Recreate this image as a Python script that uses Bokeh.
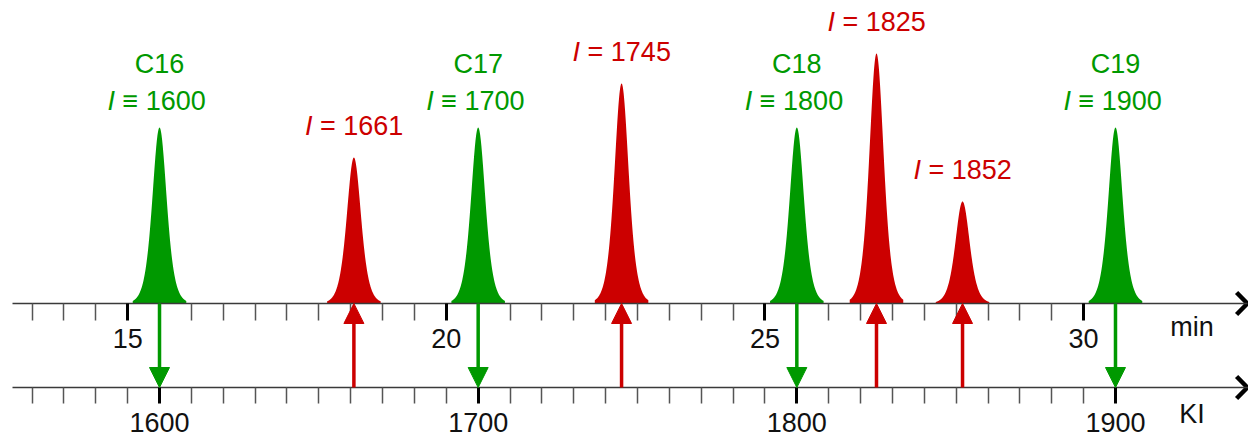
import numpy as np
from bokeh.plotting import figure
from bokeh.models import Range1d, LinearAxis, FixedTicker, Arrow, NormalHead, ColumnDataSource
from bokeh.core.properties import value
from bokeh.embed import file_html
from bokeh.resources import INLINE

# ---------------- data ----------------
standard_names = ["C16", "C17", "C18", "C19"]
standard_ki = [1600, 1700, 1800, 1900]
standard_rt = [15.5, 20.5, 25.5, 30.5]          # retention time, min
standard_height = [176, 176, 176, 176]

unknown_ki = [1661, 1745, 1825, 1852]
unknown_rt = [18.55, 22.75, 26.75, 28.1]         # retention time, min
unknown_height = [146, 220, 250, 102]

time_major = [15, 20, 25, 30]
time_minor = [t for t in np.arange(13.5, 30.01, 0.5) if t not in time_major]
ki_major = [1600, 1700, 1800, 1900]
ki_minor = [k for k in range(1560, 1901, 10) if k not in ki_major]

# ---------------- style ----------------
GREEN = "#009900"
RED = "#cc0000"
FONT = "Liberation Sans"
FS = "27px"
PEAK_W = 0.15       # peak half-width parameter (min)
KI_LEVEL = -84      # y of KI axis
T_RANGE = (13.005, 32.587)
KI_RANGE = (1550.1, 1941.74)
AXIS_END = 32.57

p = figure(width=1248, height=436, x_range=Range1d(*T_RANGE), y_range=Range1d(-133, 303),
           output_backend="svg", toolbar_location=None,
           x_axis_location=None, y_axis_location=None, min_border=0)
p.outline_line_color = None
p.background_fill_color = "white"
p.border_fill_color = "white"
p.grid.grid_line_color = None
p.grid.visible = False
p.extra_x_ranges = {"ki": Range1d(*KI_RANGE)}

# peaks
def draw_peak(rt, h, color):
    t = np.linspace(rt - 0.42, rt + 0.42, 181)
    y = h / np.cosh((t - rt) / PEAK_W) ** 2
    p.varea(x=t, y1=0, y2=y, fill_color=color, fill_alpha=1)

for rt, h in zip(standard_rt, standard_height):
    draw_peak(rt, h, GREEN)
for rt, h in zip(unknown_rt, unknown_height):
    draw_peak(rt, h, RED)

# arrows
g_src = ColumnDataSource(dict(x=standard_rt, y0=[0] * 4, y1=[KI_LEVEL] * 4))
p.add_layout(Arrow(source=g_src, x_start="x", y_start="y0", x_end="x", y_end="y1",
                   line_color=GREEN, line_width=3.5,
                   end=NormalHead(size=20, fill_color=GREEN, line_color=GREEN, line_width=1)))
r_src = ColumnDataSource(dict(x=unknown_ki, y0=[KI_LEVEL] * 4, y1=[0] * 4))
p.add_layout(Arrow(source=r_src, x_start="x", y_start="y0", x_end="x", y_end="y1",
                   x_range_name="ki", line_color=RED, line_width=3.5,
                   end=NormalHead(size=20, fill_color=RED, line_color=RED, line_width=1)))

# axes
def style_axis(ax, tick_len):
    ax.axis_line_color = "#3a3a3a"
    ax.axis_line_width = 1.5
    ax.major_tick_in = 0
    ax.major_tick_out = tick_len
    ax.major_tick_line_width = 3
    ax.major_tick_line_color = "black"
    ax.minor_tick_in = 0
    ax.minor_tick_out = tick_len
    ax.minor_tick_line_width = 1.5
    ax.minor_tick_line_color = "#555555"
    ax.major_label_text_font = FONT
    ax.major_label_text_font_size = FS
    ax.major_label_text_color = "#111111"
    ax.major_label_standoff = 8

ax_t = LinearAxis(fixed_location=0, ticker=FixedTicker(ticks=time_major, minor_ticks=time_minor),
                  bounds=(13.19, AXIS_END))
style_axis(ax_t, 17)
p.add_layout(ax_t, "below")

ax_k = LinearAxis(x_range_name="ki", fixed_location=KI_LEVEL,
                  ticker=FixedTicker(ticks=ki_major, minor_ticks=ki_minor),
                  bounds=(1553.9, 1941.6))
style_axis(ax_k, 16)
ax_k.major_label_standoff = 9
p.add_layout(ax_k, "below")

# axis-end chevrons
for lvl in (0, KI_LEVEL):
    p.line(x=[AXIS_END - 0.17, AXIS_END, AXIS_END - 0.17], y=[lvl + 11, lvl, lvl - 11],
           line_color="black", line_width=4.5, line_join="miter")

# axis unit labels
p.text(x=[31.7, 31.7], y=[-23, -110], text=["min", "KI"], text_font=value(FONT),
       text_font_size=FS, text_color="#111111", text_align="center", text_baseline="middle")

# peak labels
std_top = standard_height
p.text(x=standard_rt, y=std_top, text=standard_names, text_font=value(FONT), text_font_size=FS,
       text_color=GREEN, text_align="center", text_baseline="middle", y_offset=-64)
p.text(x=standard_rt, y=std_top, text=["I"] * 4, text_font=value(FONT), text_font_style="italic",
       text_font_size=FS, text_color=GREEN, text_align="left", text_baseline="middle",
       x_offset=-52, y_offset=-27)
p.text(x=standard_rt, y=std_top, text=[f"\u2261 {k}" for k in standard_ki], text_font=value(FONT),
       text_font_size=FS, text_color=GREEN, text_align="left", text_baseline="middle",
       x_offset=-37, y_offset=-27)

p.text(x=unknown_rt, y=unknown_height, text=["I"] * 4, text_font=value(FONT), text_font_style="italic",
       text_font_size=FS, text_color=RED, text_align="left", text_baseline="middle",
       x_offset=-49, y_offset=-32)
p.text(x=unknown_rt, y=unknown_height, text=[f"= {k}" for k in unknown_ki], text_font=value(FONT),
       text_font_size=FS, text_color=RED, text_align="left", text_baseline="middle",
       x_offset=-34, y_offset=-32)

open("out.html", "w").write(file_html(p, INLINE))
